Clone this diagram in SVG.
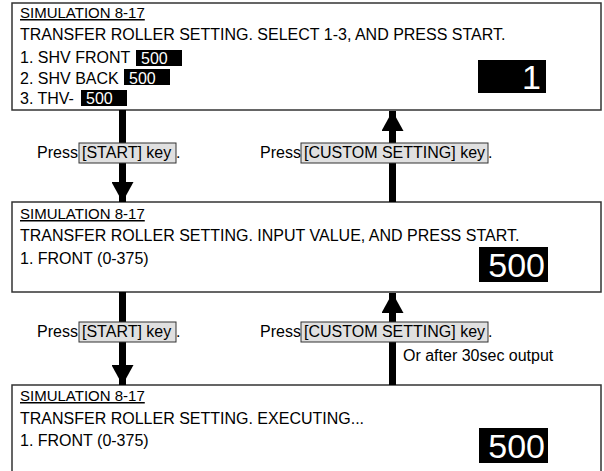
<svg xmlns="http://www.w3.org/2000/svg" width="604" height="471" viewBox="0 0 604 471">
<style>
.t{font-family:"Liberation Sans",Arial,sans-serif;font-size:16px;fill:#000}
.h{font-family:"Liberation Sans",Arial,sans-serif;font-size:15px;fill:#000;text-decoration:underline}
.big{font-family:"Liberation Sans",Arial,sans-serif;font-size:34px;fill:#fff;text-anchor:end}
.val{font-family:"Liberation Sans",Arial,sans-serif;font-size:16px;fill:#fff}
.scr{fill:#fff;stroke:#333;stroke-width:1.5}
.key{fill:#e0e0e0;stroke:#333;stroke-width:1}
.blk{fill:#000}
.sh{stroke:#000;stroke-width:7}
</style>
<defs>
<marker id="ah" viewBox="0 0 20 22" refX="20" refY="11" markerWidth="20" markerHeight="22" markerUnits="userSpaceOnUse" orient="auto">
<path d="M0,0 L20,11 L0,22 Z" fill="#000"/>
</marker>
</defs>
<g id="screen1">
<rect class="scr" x="12" y="3" width="589" height="107"/>
<text class="h" x="20" y="18">SIMULATION 8-17</text>
<text class="t" x="20" y="40">TRANSFER ROLLER SETTING. SELECT 1-3, AND PRESS START.</text>
<text class="t" x="20" y="63">1. SHV FRONT</text>
<rect class="blk" x="136" y="50" width="46" height="16"/>
<text class="val" x="141" y="64">500</text>
<text class="t" x="20" y="84">2. SHV BACK</text>
<rect class="blk" x="124" y="69" width="46" height="16"/>
<text class="val" x="129" y="84">500</text>
<text class="t" x="20" y="104">3. THV-</text>
<rect class="blk" x="81" y="90" width="46" height="16"/>
<text class="val" x="86" y="104">500</text>
<rect class="blk" x="478" y="60" width="68" height="33"/>
<text class="big" x="541" y="89">1</text>
</g>
<g id="screen2">
<rect class="scr" x="12" y="202" width="589" height="90"/>
<text class="h" x="20" y="219">SIMULATION 8-17</text>
<text class="t" x="20" y="241">TRANSFER ROLLER SETTING. INPUT VALUE, AND PRESS START.</text>
<text class="t" x="20" y="264">1. FRONT (0-375)</text>
<rect class="blk" x="479" y="247" width="69" height="35"/>
<text class="big" x="545" y="277">500</text>
</g>
<g id="screen3">
<rect class="scr" x="12" y="385" width="589" height="100"/>
<text class="h" x="20" y="401">SIMULATION 8-17</text>
<text class="t" x="20" y="424">TRANSFER ROLLER SETTING. EXECUTING...</text>
<text class="t" x="20" y="446">1. FRONT (0-375)</text>
<rect class="blk" x="479" y="428" width="69" height="35"/>
<text class="big" x="545" y="458">500</text>
</g>
<g id="connectors">
<line class="sh" x1="122.5" y1="110" x2="122.5" y2="202" marker-end="url(#ah)"/>
<line class="sh" x1="392.5" y1="202" x2="392.5" y2="111" marker-end="url(#ah)"/>
<line class="sh" x1="122.5" y1="292" x2="122.5" y2="385" marker-end="url(#ah)"/>
<line class="sh" x1="392.5" y1="385" x2="392.5" y2="293" marker-end="url(#ah)"/>
</g>
<g id="labels">
<text class="t" x="37" y="158">Press</text>
<rect class="key" x="79" y="143" width="97" height="20"/>
<text class="t" x="82" y="158">[START] key</text>
<text class="t" x="176" y="158">.</text>
<text class="t" x="260" y="158">Press</text>
<rect class="key" x="301" y="143" width="187" height="20"/>
<text class="t" x="304" y="158">[CUSTOM SETTING] key</text>
<text class="t" x="488" y="158">.</text>
<text class="t" x="37" y="337">Press</text>
<rect class="key" x="79" y="322" width="97" height="20"/>
<text class="t" x="82" y="337">[START] key</text>
<text class="t" x="176" y="337">.</text>
<text class="t" x="260" y="337">Press</text>
<rect class="key" x="301" y="322" width="187" height="20"/>
<text class="t" x="304" y="337">[CUSTOM SETTING] key</text>
<text class="t" x="488" y="337">.</text>
<text class="t" x="403" y="361">Or after 30sec output</text>
</g>
</svg>
